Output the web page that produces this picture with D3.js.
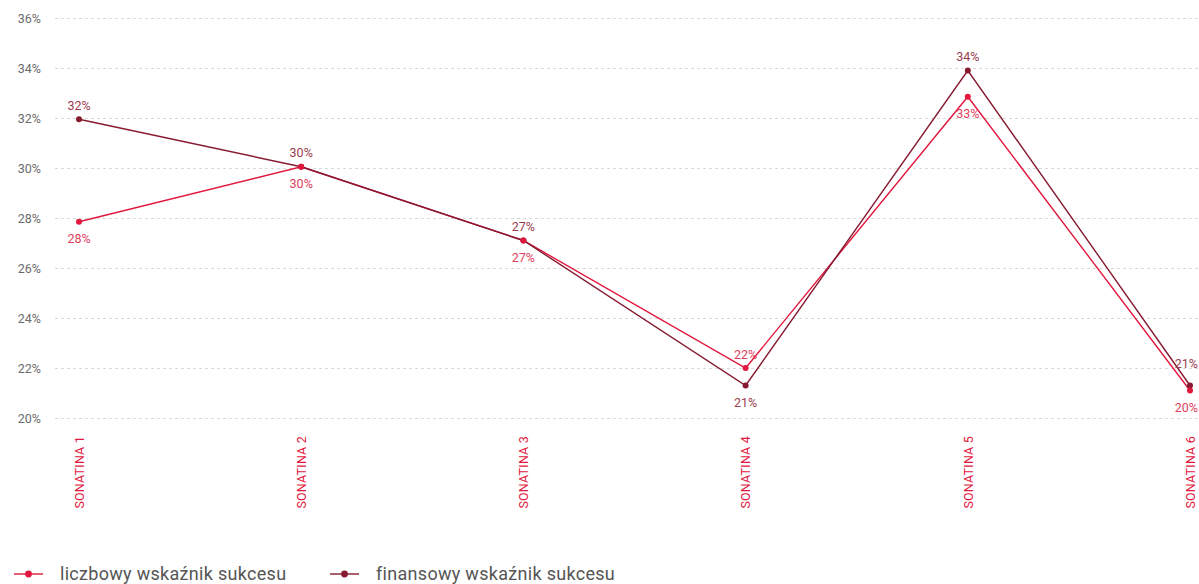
<!DOCTYPE html>
<html>
<head>
<meta charset="utf-8">
<script src="https://cdn.jsdelivr.net/npm/d3@7"></script>
<style>
  html, body { margin: 0; padding: 0; background: #fff; }
  svg { display: block; font-family: Roboto, "DejaVu Sans", sans-serif; }
</style>
</head>
<body>
<svg id="chart" width="1199" height="584"></svg>
<script>
const categories = ["SONATINA 1", "SONATINA 2", "SONATINA 3", "SONATINA 4", "SONATINA 5", "SONATINA 6"];
const liczbowyValues = [27.85, 30.05, 27.1, 22.0, 32.85, 21.1];
const liczbowyLabels = ["28%", "30%", "27%", "22%", "33%", "20%"];
const finansowyValues = [31.95, 30.05, 27.1, 21.3, 33.9, 21.3];
const finansowyLabels = ["32%", "30%", "27%", "21%", "34%", "21%"];
const yTicks = [20, 22, 24, 26, 28, 30, 32, 34, 36];
const seriesNames = ["liczbowy wskaźnik sukcesu", "finansowy wskaźnik sukcesu"];

const RED = "#e2173d", DARK = "#851a30";
const RED_LBL = "#e0405c", DARK_LBL = "#9a3d50";

const svg = d3.select("#chart");
const W = 1199;

const x = d3.scalePoint().domain(categories).range([79, 1190]);
const y = d3.scaleLinear().domain([20, 36]).range([418, 18]);

// gridlines
svg.append("g").selectAll("line").data(yTicks).join("line")
  .attr("x1", 55).attr("x2", W).attr("y1", d => y(d) + 0.5).attr("y2", d => y(d) + 0.5)
  .attr("stroke", "#d9d9d9").attr("stroke-width", 1).attr("stroke-dasharray", "3,3");

// y axis
const yAxis = svg.append("g").attr("transform", "translate(41,0)")
  .call(d3.axisLeft(y).tickValues(yTicks).tickFormat(d => d + "%").tickSize(0).tickPadding(0));
yAxis.select(".domain").remove();
yAxis.selectAll("text").attr("fill", "#6b6b6b").style("font-size", "12.5px")
  .style("font-family", "Roboto, sans-serif");

// x axis labels
const xAxis = svg.append("g").attr("transform", "translate(0,436)")
  .call(d3.axisBottom(x).tickSize(0).tickPadding(0));
xAxis.select(".domain").remove();
xAxis.selectAll("text")
  .attr("fill", RED).style("font-size", "12.5px").style("font-family", "Roboto, sans-serif")
  .style("letter-spacing", "0.2px")
  .attr("transform", "rotate(-90)").attr("x", 0).attr("y", 0).attr("dy", "0.35em")
  .attr("text-anchor", "end");

const series = [
  { name: seriesNames[0], values: liczbowyValues, labels: liczbowyLabels, color: RED, lbl: RED_LBL },
  { name: seriesNames[1], values: finansowyValues, labels: finansowyLabels, color: DARK, lbl: DARK_LBL }
];

const line = d3.line().x((d, i) => x(categories[i])).y(d => y(d));

series.forEach(s => {
  svg.append("path").datum(s.values).attr("d", line)
    .attr("fill", "none").attr("stroke", s.color).attr("stroke-width", 1.4);
});
[series[1], series[0]].forEach(s => {
  svg.append("g").selectAll("circle").data(s.values).join("circle")
    .attr("cx", (d, i) => x(categories[i])).attr("cy", d => y(d))
    .attr("r", 3).attr("fill", s.color);
});

// labels: higher series above, lower below; ties -> finansowy above
categories.forEach((c, i) => {
  const a = liczbowyValues[i], b = finansowyValues[i];
  const redAbove = a > b;
  const place = [
    { s: series[0], above: redAbove },
    { s: series[1], above: !redAbove }
  ];
  place.forEach(p => {
    const v = p.s.values[i];
    const cx = x(c);
    const t = svg.append("text")
      .attr("x", cx)
      .attr("y", p.above ? y(v) - 9.5 : y(v) + 21.5)
      .attr("text-anchor", "middle")
      .attr("fill", p.s.lbl).style("font-size", "12.5px")
      .text(p.s.labels[i]);
    const w = t.node().getComputedTextLength();
    if (cx + w / 2 > W - 1) {
      t.attr("x", W - 1).attr("text-anchor", "end");
      if (p.above) t.attr("y", y(v) - 17.5);
    }
  });
});

// legend
const legend = svg.append("g").attr("transform", "translate(0,574)");
const legX = [14, 330];
series.forEach((s, k) => {
  const g = legend.append("g").attr("transform", `translate(${legX[k]},0)`);
  g.append("line").attr("x1", 0).attr("x2", 29).attr("y1", 0).attr("y2", 0)
    .attr("stroke", s.color).attr("stroke-width", 1.4);
  g.append("circle").attr("cx", 14.5).attr("cy", 0).attr("r", 3.4).attr("fill", s.color);
  g.append("text").attr("x", 46).attr("y", 0).attr("dy", "0.35em")
    .attr("fill", "#555").style("font-size", "18px").style("letter-spacing", "0.3px")
    .text(s.name);
});
</script>
</body>
</html>
